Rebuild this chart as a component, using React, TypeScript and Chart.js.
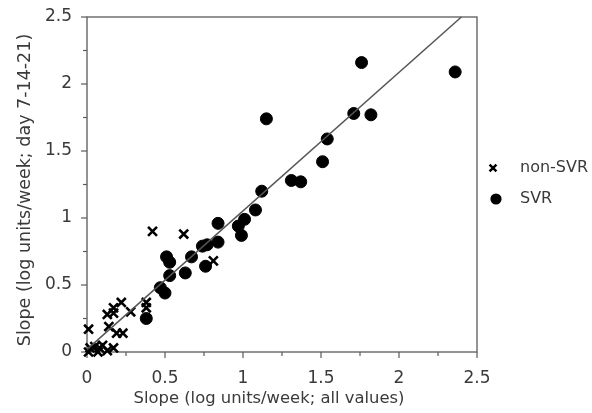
import React, { useEffect, useRef } from 'react';
import { Chart, registerables } from 'chart.js';

Chart.register(...registerables);

// SVR patients (filled circles)
const svrX = [2.36, 1.76, 1.71, 1.82, 1.54, 1.15, 1.51, 1.31, 1.37, 1.12, 1.08, 1.01, 0.97, 0.99, 0.84, 0.84, 0.74, 0.77, 0.67, 0.76, 0.63, 0.51, 0.53, 0.53, 0.47, 0.50, 0.38];
const svrY = [2.09, 2.16, 1.78, 1.77, 1.59, 1.74, 1.42, 1.28, 1.27, 1.20, 1.06, 0.99, 0.94, 0.87, 0.96, 0.82, 0.79, 0.80, 0.71, 0.64, 0.59, 0.71, 0.67, 0.57, 0.48, 0.44, 0.25];

// non-SVR patients (crosses)
const nonSvrX = [0.42, 0.62, 0.81, 0.38, 0.38, 0.22, 0.28, 0.17, 0.13, 0.17, 0.14, 0.19, 0.23, 0.01, 0.02, 0.05, 0.08, 0.10, 0.17, 0.01, 0.07, 0.13];
const nonSvrY = [0.90, 0.88, 0.68, 0.37, 0.33, 0.37, 0.30, 0.33, 0.28, 0.29, 0.19, 0.14, 0.14, 0.17, 0.03, 0.04, 0.03, 0.05, 0.03, 0.00, 0.00, 0.01];

// regression line end points
const fitX = [0, 2.4];
const fitY = [0.02, 2.5];

const majorTicks = [0, 0.5, 1, 1.5, 2, 2.5];
const minorTicks = [0.25, 0.75, 1.25, 1.75, 2.25];

const xTitle = 'Slope (log units/week; all values)';
const yTitle = 'Slope (log units/week; day 7-14-21)';
const legendLabels = ['non-SVR', 'SVR'];

const FONT = '"DejaVu Sans", sans-serif';
const TEXT = '#3a3a3a';
const AXIS = '#5a5a5a';

const framePlugin = {
  id: 'frameTicks',
  beforeDatasetsDraw(chart: any) {
    const { ctx, chartArea, scales } = chart;
    const { left, right, top, bottom } = chartArea;
    ctx.save();
    ctx.strokeStyle = AXIS;
    ctx.lineWidth = 1.3;
    ctx.strokeRect(left, top, right - left, bottom - top);
    ctx.lineWidth = 1.2;
    const all = [...majorTicks.map((v) => [v, 6]), ...minorTicks.map((v) => [v, 4])];
    all.forEach(([v, len]) => {
      const px = scales.x.getPixelForValue(v);
      ctx.beginPath();
      ctx.moveTo(px, bottom);
      ctx.lineTo(px, bottom + len);
      ctx.stroke();
      const py = scales.y.getPixelForValue(v);
      ctx.beginPath();
      ctx.moveTo(left, py);
      ctx.lineTo(left - len, py);
      ctx.stroke();
    });
    ctx.restore();
  },
  afterDraw(chart: any) {
    const { ctx, chartArea } = chart;
    ctx.save();
    // axis titles
    ctx.fillStyle = TEXT;
    ctx.textBaseline = 'middle';
    ctx.textAlign = 'center';
    ctx.font = '16.4px ' + FONT;
    ctx.fillText(xTitle, 269, 399);
    ctx.save();
    ctx.translate(25, 190);
    ctx.rotate(-Math.PI / 2);
    ctx.font = '17.5px ' + FONT;
    ctx.fillText(yTitle, 0, 0);
    ctx.restore();

    // legend
    const x0 = chartArea.right + 16;
    const tx = chartArea.right + 43;
    const y1 = 168;
    const y2 = 199;
    ctx.strokeStyle = '#000';
    ctx.lineWidth = 2.5;
    const c = 3.4;
    ctx.beginPath();
    ctx.moveTo(x0 - c, y1 - c);
    ctx.lineTo(x0 + c, y1 + c);
    ctx.moveTo(x0 + c, y1 - c);
    ctx.lineTo(x0 - c, y1 + c);
    ctx.stroke();
    ctx.fillStyle = '#000';
    ctx.beginPath();
    ctx.arc(x0 + 3, y2, 5.6, 0, Math.PI * 2);
    ctx.fill();
    ctx.fillStyle = TEXT;
    ctx.font = '16px ' + FONT;
    ctx.textAlign = 'left';
    ctx.fillText(legendLabels[0], tx, y1);
    ctx.fillText(legendLabels[1], tx, y2);
    ctx.restore();
  },
};

export default function App() {
  const ref = useRef<HTMLCanvasElement>(null);
  useEffect(() => {
    if (!ref.current) return;
    const tickCfg = {
      font: { family: FONT, size: 17 },
      color: TEXT,
      callback: (v: any) => String(v),
    };
    const chart = new Chart(ref.current, {
      type: 'scatter',
      data: {
        datasets: [
          {
            label: 'fit',
            type: 'line',
            data: fitX.map((x, i) => ({ x, y: fitY[i] })),
            borderColor: '#555',
            borderWidth: 1.5,
            pointRadius: 0,
            showLine: true,
            clip: false,
          } as any,
          {
            label: legendLabels[1],
            data: svrX.map((x, i) => ({ x, y: svrY[i] })),
            pointStyle: 'circle',
            pointRadius: 6,
            backgroundColor: '#000',
            borderColor: '#000',
            borderWidth: 1,
            clip: false,
          },
          {
            label: legendLabels[0],
            data: nonSvrX.map((x, i) => ({ x, y: nonSvrY[i] })),
            pointStyle: 'crossRot',
            pointRadius: 6.3,
            borderColor: '#000',
            borderWidth: 2.6,
            clip: false,
          },
        ],
      },
      options: {
        responsive: false,
        animation: false,
        events: [],
        layout: { padding: { top: 17, right: 115, left: 0, bottom: 0 } },
        plugins: { legend: { display: false }, tooltip: { enabled: false } },
        scales: {
          x: {
            type: 'linear',
            min: 0,
            max: 2.5,
            afterBuildTicks: (s: any) => {
              s.ticks = majorTicks.map((value) => ({ value }));
            },
            afterFit: (s: any) => {
              s.height = 61;
              s.paddingLeft = 0;
              s.paddingRight = 0;
            },
            grid: { display: false, drawTicks: false },
            border: { display: false },
            ticks: { ...tickCfg, padding: 16, maxRotation: 0 },
          },
          y: {
            type: 'linear',
            min: 0,
            max: 2.5,
            afterBuildTicks: (s: any) => {
              s.ticks = majorTicks.map((value) => ({ value }));
            },
            afterFit: (s: any) => {
              s.width = 87;
              s.paddingTop = 0;
              s.paddingBottom = 0;
            },
            grid: { display: false, drawTicks: false },
            border: { display: false },
            ticks: { ...tickCfg, padding: 15 },
          },
        },
      },
      plugins: [framePlugin],
    });
    return () => chart.destroy();
  }, []);
  return (
    <div style={{ position: 'fixed', left: 0, top: 0, width: 592, height: 413, background: '#fff' }}>
      <canvas ref={ref} width={592} height={413} />
    </div>
  );
}
